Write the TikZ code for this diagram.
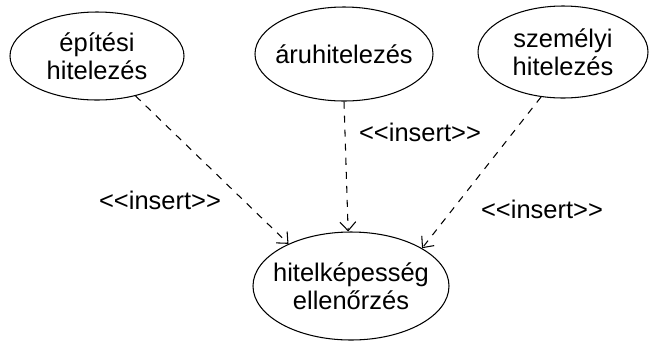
\documentclass[tikz,border=0pt]{standalone}
\usepackage{fontspec}
\setmainfont{Liberation Sans}
\usetikzlibrary{arrows.meta,positioning,shapes.geometric}

\newcommand{\ins}{<\kern0pt<insert>\kern0pt>}

\begin{document}
\begin{tikzpicture}[>={Straight Barb[length=5pt,width=9pt]},
  font=\fontsize{14.5}{16}\selectfont, line width=0.6pt,
  uc/.style={ellipse, draw, inner sep=0pt},
  txt/.style={align=center, inner sep=0pt},
  dep/.style={->, dash pattern=on 4pt off 4pt},
  lab/.style={inner sep=1pt},
]
  \useasboundingbox (0,0) rectangle (13.02,-6.86);

  % use cases
  \node[uc, minimum width=3.48cm, minimum height=1.76cm] (epit) at (1.94,-1.12) {};
  \node[txt] (epitt) at (epit) {építési\\hitelezés};
  \node[uc, minimum width=3.56cm, minimum height=1.88cm] (aru) at (6.88,-1.08) {};
  \node[txt] (arut) at (aru) {áruhitelezés};
  \node[uc, minimum width=3.40cm, minimum height=1.84cm] (szem) at (11.26,-1.04) {};
  \node[txt] (szemt) at (szem) {személyi\\hitelezés};
  \node[uc, minimum width=3.92cm, minimum height=2.16cm] (hitel) at (7.02,-5.72) {};
  \node[txt] (hitelt) at (hitel) {hitelképesség\\ellenőrzés};

  % insert dependencies
  \draw[dep] (epit.-46) -- (hitel.146);
  \draw[dep] (aru.-90) -- (hitel.93);
  \draw[dep] (szem.-116) -- (hitel.28);

  \node[lab] (l1) at (3.20,-4.00) {\ins};
  \node[lab] (l2) at (8.40,-2.64) {\ins};
  \node[lab] (l3) at (10.84,-4.18) {\ins};
\end{tikzpicture}
\end{document}
